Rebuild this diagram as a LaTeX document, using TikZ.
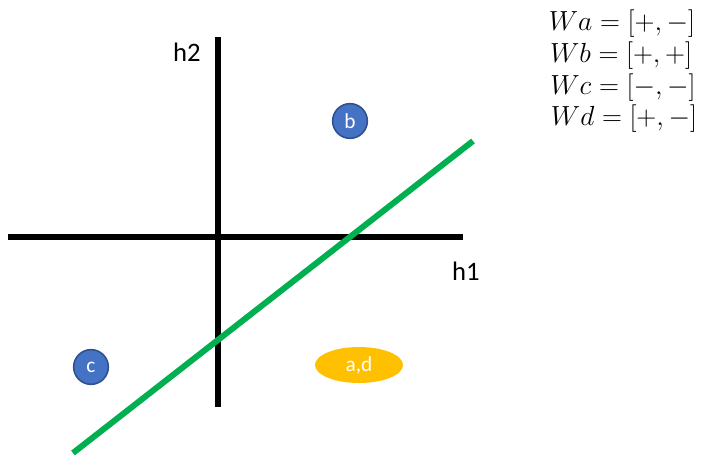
\documentclass[tikz,border=0pt]{standalone}
\usepackage{fontspec}
\setmainfont{Carlito}
\usepackage{tikz}
\usetikzlibrary{positioning,shapes.geometric}
\definecolor{dotblue}{HTML}{4472C4}
\definecolor{dotedge}{HTML}{2F528F}
\definecolor{dotgold}{HTML}{FFC000}
\definecolor{linegreen}{HTML}{00B050}

\begin{document}
\begin{tikzpicture}[
  x=0.75pt, y=-0.75pt,
  axis/.style={line width=4.5pt, black},
  split/.style={line width=4.5pt, linegreen},
  dot/.style={
    circle, draw=dotedge, line width=1.2pt, fill=dotblue,
    minimum size=26pt, inner sep=0pt, text=white, font=\fontsize{16}{19}\selectfont
  },
  blob/.style={
    ellipse, fill=dotgold, minimum width=66pt, minimum height=27pt,
    inner sep=0pt, text=white, font=\fontsize{16}{19}\selectfont
  },
  axlabel/.style={font=\fontsize{20}{24}\selectfont},
  eq/.style={font=\fontsize{20}{24}\selectfont, anchor=center}
]
\useasboundingbox (0,0) rectangle (704,471);

% Ejes
\coordinate (xl) at (8,237);
\coordinate (xr) at (463,237);
\coordinate (yt) at (218,37);
\coordinate (yb) at (218,407);
\draw[axis] (xl) -- (xr);
\draw[axis] (yt) -- (yb);
\node[axlabel] (h1) at (466,271) {h1};
\node[axlabel] (h2) at (187,52) {h2};

% Frontera
\coordinate (gs) at (73,453);
\coordinate (ge) at (473,141);
\draw[split] (gs) -- (ge);

% Puntos
\node[dot] (b) at (350,121) {b};
\node[dot] (c) at (91,367) {c};
\node[blob] (ad) at (359,365) {a,d};

% Pesos
\node[eq] (wa) at (622,24) {$Wa=[+,-]$};
\node[eq] (wb) at (621,56) {$Wb=[+,+]$};
\node[eq] (wc) at (623,88) {$Wc=[-,-]$};
\node[eq] (wd) at (624,119) {$Wd=[+,-]$};
\end{tikzpicture}
\end{document}
